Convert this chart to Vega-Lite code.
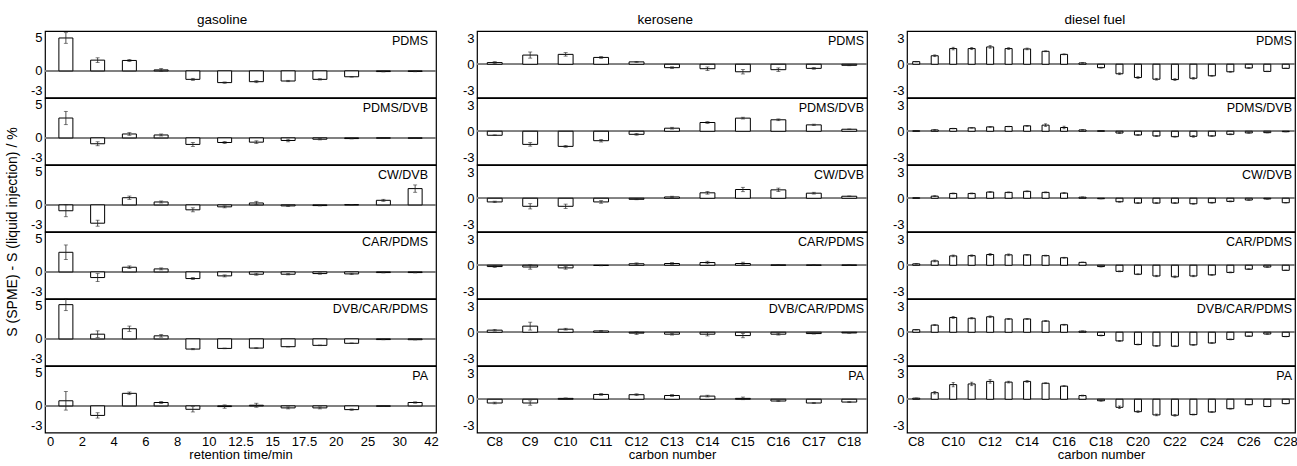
{
"$schema":"https://vega.github.io/schema/vega-lite/v6.json",
"padding":{"left":5,"top":12,"right":0,"bottom":0},
"config":{"font":"Liberation Sans","view":{"stroke":"black","strokeWidth":1.2},
"axis":{"grid":false,"ticks":false,"domain":false,"minExtent":0,"labelFontSize":13,"labelColor":"black","labelPadding":3,"labelOverlap":false,"labelBound":false,"labelFlush":false,"titleFontSize":13,"titleFontWeight":"normal","titleColor":"black","titlePadding":1},
"axisX":{"labelPadding":2,"titlePadding":0},
"header":{"labels":false,"labelPadding":0},
"title":{"fontSize":13.5,"fontWeight":"normal","offset":4,"anchor":"middle"}},
"spacing":23,
"datasets":{
"gas":[
{"fiber":"PDMS","seg":1,"value":4.95,"error":0.8},{"fiber":"PDMS","seg":2,"value":1.62,"error":0.35},{"fiber":"PDMS","seg":3,"value":1.57,"error":0.15},{"fiber":"PDMS","seg":4,"value":0.15,"error":0.2},{"fiber":"PDMS","seg":5,"value":-1.27,"error":0.15},{"fiber":"PDMS","seg":6,"value":-1.76,"error":0.1},{"fiber":"PDMS","seg":7,"value":-1.62,"error":0.15},{"fiber":"PDMS","seg":8,"value":-1.52,"error":0.1},{"fiber":"PDMS","seg":9,"value":-1.27,"error":0.1},{"fiber":"PDMS","seg":10,"value":-0.88,"error":0.05},{"fiber":"PDMS","seg":11,"value":-0.1,"error":0.05},{"fiber":"PDMS","seg":12,"value":-0.08,"error":0.05},
{"fiber":"PDMS/DVB","seg":1,"value":2.99,"error":1.0},{"fiber":"PDMS/DVB","seg":2,"value":-0.88,"error":0.3},{"fiber":"PDMS/DVB","seg":3,"value":0.59,"error":0.2},{"fiber":"PDMS/DVB","seg":4,"value":0.44,"error":0.15},{"fiber":"PDMS/DVB","seg":5,"value":-0.98,"error":0.3},{"fiber":"PDMS/DVB","seg":6,"value":-0.69,"error":0.15},{"fiber":"PDMS/DVB","seg":7,"value":-0.64,"error":0.2},{"fiber":"PDMS/DVB","seg":8,"value":-0.39,"error":0.2},{"fiber":"PDMS/DVB","seg":9,"value":-0.2,"error":0.1},{"fiber":"PDMS/DVB","seg":10,"value":-0.1,"error":0.05},{"fiber":"PDMS/DVB","seg":11,"value":-0.03,"error":0.03},{"fiber":"PDMS/DVB","seg":12,"value":-0.05,"error":0.03},
{"fiber":"CW/DVB","seg":1,"value":-0.88,"error":0.9},{"fiber":"CW/DVB","seg":2,"value":-2.75,"error":0.45},{"fiber":"CW/DVB","seg":3,"value":1.08,"error":0.25},{"fiber":"CW/DVB","seg":4,"value":0.44,"error":0.15},{"fiber":"CW/DVB","seg":5,"value":-0.74,"error":0.3},{"fiber":"CW/DVB","seg":6,"value":-0.29,"error":0.15},{"fiber":"CW/DVB","seg":7,"value":0.29,"error":0.25},{"fiber":"CW/DVB","seg":8,"value":-0.15,"error":0.1},{"fiber":"CW/DVB","seg":9,"value":-0.1,"error":0.05},{"fiber":"CW/DVB","seg":10,"value":0.03,"error":0.03},{"fiber":"CW/DVB","seg":11,"value":0.69,"error":0.15},{"fiber":"CW/DVB","seg":12,"value":2.45,"error":0.55},
{"fiber":"CAR/PDMS","seg":1,"value":2.95,"error":1.1},{"fiber":"CAR/PDMS","seg":2,"value":-0.85,"error":0.6},{"fiber":"CAR/PDMS","seg":3,"value":0.7,"error":0.2},{"fiber":"CAR/PDMS","seg":4,"value":0.45,"error":0.15},{"fiber":"CAR/PDMS","seg":5,"value":-1.0,"error":0.15},{"fiber":"CAR/PDMS","seg":6,"value":-0.6,"error":0.15},{"fiber":"CAR/PDMS","seg":7,"value":-0.35,"error":0.15},{"fiber":"CAR/PDMS","seg":8,"value":-0.35,"error":0.1},{"fiber":"CAR/PDMS","seg":9,"value":-0.25,"error":0.1},{"fiber":"CAR/PDMS","seg":10,"value":-0.3,"error":0.1},{"fiber":"CAR/PDMS","seg":11,"value":-0.1,"error":0.05},{"fiber":"CAR/PDMS","seg":12,"value":-0.1,"error":0.05},
{"fiber":"DVB/CAR/PDMS","seg":1,"value":5.15,"error":0.9},{"fiber":"DVB/CAR/PDMS","seg":2,"value":0.71,"error":0.5},{"fiber":"DVB/CAR/PDMS","seg":3,"value":1.53,"error":0.4},{"fiber":"DVB/CAR/PDMS","seg":4,"value":0.46,"error":0.2},{"fiber":"DVB/CAR/PDMS","seg":5,"value":-1.53,"error":0.1},{"fiber":"DVB/CAR/PDMS","seg":6,"value":-1.43,"error":0.05},{"fiber":"DVB/CAR/PDMS","seg":7,"value":-1.38,"error":0.05},{"fiber":"DVB/CAR/PDMS","seg":8,"value":-1.17,"error":0.05},{"fiber":"DVB/CAR/PDMS","seg":9,"value":-0.97,"error":0.05},{"fiber":"DVB/CAR/PDMS","seg":10,"value":-0.66,"error":0.05},{"fiber":"DVB/CAR/PDMS","seg":11,"value":-0.1,"error":0.03},{"fiber":"DVB/CAR/PDMS","seg":12,"value":-0.12,"error":0.03},
{"fiber":"PA","seg":1,"value":0.77,"error":1.4},{"fiber":"PA","seg":2,"value":-1.43,"error":0.4},{"fiber":"PA","seg":3,"value":1.89,"error":0.2},{"fiber":"PA","seg":4,"value":0.51,"error":0.15},{"fiber":"PA","seg":5,"value":-0.51,"error":0.4},{"fiber":"PA","seg":6,"value":-0.1,"error":0.25},{"fiber":"PA","seg":7,"value":0.1,"error":0.3},{"fiber":"PA","seg":8,"value":-0.3,"error":0.15},{"fiber":"PA","seg":9,"value":-0.3,"error":0.15},{"fiber":"PA","seg":10,"value":-0.56,"error":0.1},{"fiber":"PA","seg":11,"value":-0.05,"error":0.03},{"fiber":"PA","seg":12,"value":0.51,"error":0.1}
],
"ker":[
{"fiber":"PDMS","carbon":"C8","value":0.19,"error":0.1},{"fiber":"PDMS","carbon":"C9","value":1.05,"error":0.35},{"fiber":"PDMS","carbon":"C10","value":1.13,"error":0.2},{"fiber":"PDMS","carbon":"C11","value":0.78,"error":0.1},{"fiber":"PDMS","carbon":"C12","value":0.27,"error":0.05},{"fiber":"PDMS","carbon":"C13","value":-0.39,"error":0.1},{"fiber":"PDMS","carbon":"C14","value":-0.51,"error":0.2},{"fiber":"PDMS","carbon":"C15","value":-0.86,"error":0.25},{"fiber":"PDMS","carbon":"C16","value":-0.62,"error":0.2},{"fiber":"PDMS","carbon":"C17","value":-0.47,"error":0.1},{"fiber":"PDMS","carbon":"C18","value":-0.12,"error":0.05},
{"fiber":"PDMS/DVB","carbon":"C8","value":-0.46,"error":0.05},{"fiber":"PDMS/DVB","carbon":"C9","value":-1.5,"error":0.2},{"fiber":"PDMS/DVB","carbon":"C10","value":-1.73,"error":0.1},{"fiber":"PDMS/DVB","carbon":"C11","value":-1.08,"error":0.15},{"fiber":"PDMS/DVB","carbon":"C12","value":-0.35,"error":0.1},{"fiber":"PDMS/DVB","carbon":"C13","value":0.35,"error":0.1},{"fiber":"PDMS/DVB","carbon":"C14","value":1.0,"error":0.1},{"fiber":"PDMS/DVB","carbon":"C15","value":1.5,"error":0.1},{"fiber":"PDMS/DVB","carbon":"C16","value":1.31,"error":0.1},{"fiber":"PDMS/DVB","carbon":"C17","value":0.73,"error":0.08},{"fiber":"PDMS/DVB","carbon":"C18","value":0.23,"error":0.03},
{"fiber":"CW/DVB","carbon":"C8","value":-0.42,"error":0.08},{"fiber":"CW/DVB","carbon":"C9","value":-0.92,"error":0.3},{"fiber":"CW/DVB","carbon":"C10","value":-0.92,"error":0.25},{"fiber":"CW/DVB","carbon":"C11","value":-0.42,"error":0.15},{"fiber":"CW/DVB","carbon":"C12","value":-0.12,"error":0.05},{"fiber":"CW/DVB","carbon":"C13","value":0.15,"error":0.08},{"fiber":"CW/DVB","carbon":"C14","value":0.62,"error":0.15},{"fiber":"CW/DVB","carbon":"C15","value":1.0,"error":0.25},{"fiber":"CW/DVB","carbon":"C16","value":0.96,"error":0.2},{"fiber":"CW/DVB","carbon":"C17","value":0.58,"error":0.1},{"fiber":"CW/DVB","carbon":"C18","value":0.23,"error":0.03},
{"fiber":"CAR/PDMS","carbon":"C8","value":-0.15,"error":0.1},{"fiber":"CAR/PDMS","carbon":"C9","value":-0.2,"error":0.25},{"fiber":"CAR/PDMS","carbon":"C10","value":-0.3,"error":0.15},{"fiber":"CAR/PDMS","carbon":"C11","value":-0.03,"error":0.03},{"fiber":"CAR/PDMS","carbon":"C12","value":0.17,"error":0.1},{"fiber":"CAR/PDMS","carbon":"C13","value":0.2,"error":0.1},{"fiber":"CAR/PDMS","carbon":"C14","value":0.31,"error":0.15},{"fiber":"CAR/PDMS","carbon":"C15","value":0.2,"error":0.15},{"fiber":"CAR/PDMS","carbon":"C16","value":0.03,"error":0.05},{"fiber":"CAR/PDMS","carbon":"C17","value":0.02,"error":0.03},{"fiber":"CAR/PDMS","carbon":"C18","value":0.02,"error":0.03},
{"fiber":"DVB/CAR/PDMS","carbon":"C8","value":0.24,"error":0.1},{"fiber":"DVB/CAR/PDMS","carbon":"C9","value":0.7,"error":0.45},{"fiber":"DVB/CAR/PDMS","carbon":"C10","value":0.35,"error":0.1},{"fiber":"DVB/CAR/PDMS","carbon":"C11","value":0.15,"error":0.05},{"fiber":"DVB/CAR/PDMS","carbon":"C12","value":-0.1,"error":0.15},{"fiber":"DVB/CAR/PDMS","carbon":"C13","value":-0.22,"error":0.1},{"fiber":"DVB/CAR/PDMS","carbon":"C14","value":-0.22,"error":0.2},{"fiber":"DVB/CAR/PDMS","carbon":"C15","value":-0.38,"error":0.25},{"fiber":"DVB/CAR/PDMS","carbon":"C16","value":-0.22,"error":0.1},{"fiber":"DVB/CAR/PDMS","carbon":"C17","value":-0.15,"error":0.05},{"fiber":"DVB/CAR/PDMS","carbon":"C18","value":-0.08,"error":0.03},
{"fiber":"PA","carbon":"C8","value":-0.43,"error":0.1},{"fiber":"PA","carbon":"C9","value":-0.43,"error":0.25},{"fiber":"PA","carbon":"C10","value":0.1,"error":0.05},{"fiber":"PA","carbon":"C11","value":0.55,"error":0.1},{"fiber":"PA","carbon":"C12","value":0.52,"error":0.1},{"fiber":"PA","carbon":"C13","value":0.43,"error":0.1},{"fiber":"PA","carbon":"C14","value":0.36,"error":0.1},{"fiber":"PA","carbon":"C15","value":0.1,"error":0.15},{"fiber":"PA","carbon":"C16","value":-0.2,"error":0.05},{"fiber":"PA","carbon":"C17","value":-0.43,"error":0.05},{"fiber":"PA","carbon":"C18","value":-0.32,"error":0.05}
],
"die":[
{"fiber":"PDMS","carbon":"C8","value":0.3,"error":0.03},{"fiber":"PDMS","carbon":"C9","value":0.97,"error":0.1},{"fiber":"PDMS","carbon":"C10","value":1.79,"error":0.15},{"fiber":"PDMS","carbon":"C11","value":1.79,"error":0.12},{"fiber":"PDMS","carbon":"C12","value":1.98,"error":0.15},{"fiber":"PDMS","carbon":"C13","value":1.79,"error":0.1},{"fiber":"PDMS","carbon":"C14","value":1.75,"error":0.1},{"fiber":"PDMS","carbon":"C15","value":1.48,"error":0.05},{"fiber":"PDMS","carbon":"C16","value":1.13,"error":0.05},{"fiber":"PDMS","carbon":"C17","value":0.15,"error":0.03},{"fiber":"PDMS","carbon":"C18","value":-0.39,"error":0.05},{"fiber":"PDMS","carbon":"C19","value":-1.09,"error":0.1},{"fiber":"PDMS","carbon":"C20","value":-1.52,"error":0.1},{"fiber":"PDMS","carbon":"C21","value":-1.71,"error":0.1},{"fiber":"PDMS","carbon":"C22","value":-1.75,"error":0.1},{"fiber":"PDMS","carbon":"C23","value":-1.6,"error":0.1},{"fiber":"PDMS","carbon":"C24","value":-1.32,"error":0.05},{"fiber":"PDMS","carbon":"C25","value":-0.86,"error":0.05},{"fiber":"PDMS","carbon":"C26","value":-0.43,"error":0.05},{"fiber":"PDMS","carbon":"C27","value":-0.82,"error":0.03},{"fiber":"PDMS","carbon":"C28","value":-0.47,"error":0.03},
{"fiber":"PDMS/DVB","carbon":"C8","value":0.05,"error":0.02},{"fiber":"PDMS/DVB","carbon":"C9","value":0.15,"error":0.05},{"fiber":"PDMS/DVB","carbon":"C10","value":0.31,"error":0.03},{"fiber":"PDMS/DVB","carbon":"C11","value":0.39,"error":0.03},{"fiber":"PDMS/DVB","carbon":"C12","value":0.5,"error":0.05},{"fiber":"PDMS/DVB","carbon":"C13","value":0.54,"error":0.03},{"fiber":"PDMS/DVB","carbon":"C14","value":0.62,"error":0.05},{"fiber":"PDMS/DVB","carbon":"C15","value":0.7,"error":0.15},{"fiber":"PDMS/DVB","carbon":"C16","value":0.43,"error":0.15},{"fiber":"PDMS/DVB","carbon":"C17","value":0.15,"error":0.03},{"fiber":"PDMS/DVB","carbon":"C18","value":0.05,"error":0.02},{"fiber":"PDMS/DVB","carbon":"C19","value":-0.2,"error":0.05},{"fiber":"PDMS/DVB","carbon":"C20","value":-0.43,"error":0.05},{"fiber":"PDMS/DVB","carbon":"C21","value":-0.54,"error":0.05},{"fiber":"PDMS/DVB","carbon":"C22","value":-0.62,"error":0.05},{"fiber":"PDMS/DVB","carbon":"C23","value":-0.58,"error":0.1},{"fiber":"PDMS/DVB","carbon":"C24","value":-0.54,"error":0.05},{"fiber":"PDMS/DVB","carbon":"C25","value":-0.35,"error":0.05},{"fiber":"PDMS/DVB","carbon":"C26","value":-0.19,"error":0.03},{"fiber":"PDMS/DVB","carbon":"C27","value":-0.16,"error":0.03},{"fiber":"PDMS/DVB","carbon":"C28","value":-0.05,"error":0.02},
{"fiber":"CW/DVB","carbon":"C8","value":0.05,"error":0.03},{"fiber":"CW/DVB","carbon":"C9","value":0.24,"error":0.05},{"fiber":"CW/DVB","carbon":"C10","value":0.55,"error":0.05},{"fiber":"CW/DVB","carbon":"C11","value":0.55,"error":0.05},{"fiber":"CW/DVB","carbon":"C12","value":0.71,"error":0.05},{"fiber":"CW/DVB","carbon":"C13","value":0.67,"error":0.05},{"fiber":"CW/DVB","carbon":"C14","value":0.79,"error":0.05},{"fiber":"CW/DVB","carbon":"C15","value":0.67,"error":0.05},{"fiber":"CW/DVB","carbon":"C16","value":0.59,"error":0.05},{"fiber":"CW/DVB","carbon":"C17","value":0.12,"error":0.03},{"fiber":"CW/DVB","carbon":"C18","value":-0.05,"error":0.02},{"fiber":"CW/DVB","carbon":"C19","value":-0.4,"error":0.05},{"fiber":"CW/DVB","carbon":"C20","value":-0.55,"error":0.05},{"fiber":"CW/DVB","carbon":"C21","value":-0.55,"error":0.05},{"fiber":"CW/DVB","carbon":"C22","value":-0.55,"error":0.05},{"fiber":"CW/DVB","carbon":"C23","value":-0.63,"error":0.05},{"fiber":"CW/DVB","carbon":"C24","value":-0.51,"error":0.05},{"fiber":"CW/DVB","carbon":"C25","value":-0.36,"error":0.05},{"fiber":"CW/DVB","carbon":"C26","value":-0.2,"error":0.03},{"fiber":"CW/DVB","carbon":"C27","value":-0.08,"error":0.03},{"fiber":"CW/DVB","carbon":"C28","value":-0.51,"error":0.03},
{"fiber":"CAR/PDMS","carbon":"C8","value":0.16,"error":0.03},{"fiber":"CAR/PDMS","carbon":"C9","value":0.49,"error":0.1},{"fiber":"CAR/PDMS","carbon":"C10","value":1.07,"error":0.1},{"fiber":"CAR/PDMS","carbon":"C11","value":1.1,"error":0.08},{"fiber":"CAR/PDMS","carbon":"C12","value":1.23,"error":0.1},{"fiber":"CAR/PDMS","carbon":"C13","value":1.19,"error":0.1},{"fiber":"CAR/PDMS","carbon":"C14","value":1.19,"error":0.05},{"fiber":"CAR/PDMS","carbon":"C15","value":1.1,"error":0.05},{"fiber":"CAR/PDMS","carbon":"C16","value":0.86,"error":0.05},{"fiber":"CAR/PDMS","carbon":"C17","value":0.33,"error":0.03},{"fiber":"CAR/PDMS","carbon":"C18","value":-0.15,"error":0.05},{"fiber":"CAR/PDMS","carbon":"C19","value":-0.7,"error":0.05},{"fiber":"CAR/PDMS","carbon":"C20","value":-1.03,"error":0.05},{"fiber":"CAR/PDMS","carbon":"C21","value":-1.23,"error":0.08},{"fiber":"CAR/PDMS","carbon":"C22","value":-1.32,"error":0.1},{"fiber":"CAR/PDMS","carbon":"C23","value":-1.23,"error":0.08},{"fiber":"CAR/PDMS","carbon":"C24","value":-1.1,"error":0.05},{"fiber":"CAR/PDMS","carbon":"C25","value":-0.82,"error":0.05},{"fiber":"CAR/PDMS","carbon":"C26","value":-0.45,"error":0.05},{"fiber":"CAR/PDMS","carbon":"C27","value":-0.2,"error":0.03},{"fiber":"CAR/PDMS","carbon":"C28","value":-0.58,"error":0.03},
{"fiber":"DVB/CAR/PDMS","carbon":"C8","value":0.29,"error":0.03},{"fiber":"DVB/CAR/PDMS","carbon":"C9","value":0.82,"error":0.05},{"fiber":"DVB/CAR/PDMS","carbon":"C10","value":1.69,"error":0.1},{"fiber":"DVB/CAR/PDMS","carbon":"C11","value":1.6,"error":0.08},{"fiber":"DVB/CAR/PDMS","carbon":"C12","value":1.77,"error":0.1},{"fiber":"DVB/CAR/PDMS","carbon":"C13","value":1.52,"error":0.05},{"fiber":"DVB/CAR/PDMS","carbon":"C14","value":1.52,"error":0.05},{"fiber":"DVB/CAR/PDMS","carbon":"C15","value":1.28,"error":0.05},{"fiber":"DVB/CAR/PDMS","carbon":"C16","value":0.86,"error":0.05},{"fiber":"DVB/CAR/PDMS","carbon":"C17","value":0.12,"error":0.03},{"fiber":"DVB/CAR/PDMS","carbon":"C18","value":-0.37,"error":0.05},{"fiber":"DVB/CAR/PDMS","carbon":"C19","value":-0.99,"error":0.05},{"fiber":"DVB/CAR/PDMS","carbon":"C20","value":-1.4,"error":0.05},{"fiber":"DVB/CAR/PDMS","carbon":"C21","value":-1.56,"error":0.05},{"fiber":"DVB/CAR/PDMS","carbon":"C22","value":-1.6,"error":0.05},{"fiber":"DVB/CAR/PDMS","carbon":"C23","value":-1.44,"error":0.05},{"fiber":"DVB/CAR/PDMS","carbon":"C24","value":-1.23,"error":0.05},{"fiber":"DVB/CAR/PDMS","carbon":"C25","value":-0.82,"error":0.05},{"fiber":"DVB/CAR/PDMS","carbon":"C26","value":-0.45,"error":0.03},{"fiber":"DVB/CAR/PDMS","carbon":"C27","value":-0.2,"error":0.03},{"fiber":"DVB/CAR/PDMS","carbon":"C28","value":-0.49,"error":0.03},
{"fiber":"PA","carbon":"C8","value":0.12,"error":0.02},{"fiber":"PA","carbon":"C9","value":0.75,"error":0.15},{"fiber":"PA","carbon":"C10","value":1.67,"error":0.25},{"fiber":"PA","carbon":"C11","value":1.75,"error":0.2},{"fiber":"PA","carbon":"C12","value":2.04,"error":0.2},{"fiber":"PA","carbon":"C13","value":1.96,"error":0.1},{"fiber":"PA","carbon":"C14","value":2.04,"error":0.1},{"fiber":"PA","carbon":"C15","value":1.83,"error":0.05},{"fiber":"PA","carbon":"C16","value":1.5,"error":0.05},{"fiber":"PA","carbon":"C17","value":0.42,"error":0.05},{"fiber":"PA","carbon":"C18","value":-0.17,"error":0.05},{"fiber":"PA","carbon":"C19","value":-0.92,"error":0.15},{"fiber":"PA","carbon":"C20","value":-1.42,"error":0.1},{"fiber":"PA","carbon":"C21","value":-1.79,"error":0.1},{"fiber":"PA","carbon":"C22","value":-1.83,"error":0.1},{"fiber":"PA","carbon":"C23","value":-1.75,"error":0.05},{"fiber":"PA","carbon":"C24","value":-1.46,"error":0.05},{"fiber":"PA","carbon":"C25","value":-1.08,"error":0.05},{"fiber":"PA","carbon":"C26","value":-0.62,"error":0.03},{"fiber":"PA","carbon":"C27","value":-0.83,"error":0.03},{"fiber":"PA","carbon":"C28","value":-0.5,"error":0.03}
]
},
"hconcat":[
{
"data":{"name":"gas"},
"title":{"text":"gasoline"},
"bounds":"flush",
"facet":{"row":{"field":"fiber","type":"nominal","sort":["PDMS","PDMS/DVB","CW/DVB","CAR/PDMS","DVB/CAR/PDMS","PA"],"header":{"labels":false,"labelPadding":0,"title":"S (SPME) - S (liquid injection) / %","titleFontSize":14,"titleFontWeight":"normal","titlePadding":0}}},
"spacing":{"row":0},
"spec":{
"width":391,"height":66.5,
"layer":[
{"mark":{"type":"rule","color":"#808080","strokeWidth":1},"encoding":{"y":{"datum":0,"type":"quantitative"}}},
{"mark":{"type":"bar","fill":"white","stroke":"black","strokeWidth":1,"width":14},
"encoding":{"x":{"field":"seg","type":"quantitative","scale":{"domain":[0.5,12.5],"nice":false,"zero":false},
"axis":{"values":[0.5,1.5,2.5,3.5,4.5,5.5,6.5,7.5,8.5,9.5,10.5,11.5,12.5],"tickCount":50,"labelExpr":"['0','2','4','6','8','10','12.5','15','17.5','20','25','30','42'][round(datum.value-0.5)]","title":"retention time/min","labelOverlap":false}},
"y":{"field":"value","type":"quantitative","scale":{"domain":[-4,6],"nice":false},"axis":{"values":[-3,0,5],"tickCount":20,"title":null,"labelOverlap":false,"labelExpr":"datum.value < 0 ? '-' + abs(datum.value) : '' + datum.value"}}}},
{"mark":{"type":"errorbar","ticks":{"size":4,"color":"#222"},"color":"#222","thickness":0.8},
"encoding":{"x":{"field":"seg","type":"quantitative"},"y":{"field":"value","type":"quantitative"},"yError":{"field":"error"}}},
{"transform":[{"aggregate":[{"op":"count","as":"n"}],"groupby":["fiber"]}],
"mark":{"type":"text","align":"right","baseline":"top","dx":-3,"dy":4,"fontSize":12.5,"color":"black"},
"encoding":{"x":{"datum":12.5,"type":"quantitative"},"y":{"datum":6,"type":"quantitative"},"text":{"field":"fiber"}}}
]}
},
{
"data":{"name":"ker"},
"title":{"text":"kerosene"},
"bounds":"flush",
"facet":{"row":{"field":"fiber","type":"nominal","sort":["PDMS","PDMS/DVB","CW/DVB","CAR/PDMS","DVB/CAR/PDMS","PA"],"header":{"labels":false,"title":null}}},
"spacing":{"row":0},
"spec":{
"width":390,"height":66.5,
"layer":[
{"mark":{"type":"rule","color":"#808080","strokeWidth":1},"encoding":{"y":{"datum":0,"type":"quantitative"}}},
{"mark":{"type":"bar","fill":"white","stroke":"black","strokeWidth":1,"width":{"band":0.42}},
"encoding":{"x":{"field":"carbon","type":"nominal","sort":null,"scale":{"paddingInner":0,"paddingOuter":0},"axis":{"labelAngle":0,"title":"carbon number"}},
"y":{"field":"value","type":"quantitative","scale":{"domain":[-3.8,3.8],"nice":false},"axis":{"values":[-3,0,3],"tickCount":20,"title":null,"labelOverlap":false,"labelExpr":"datum.value < 0 ? '-' + abs(datum.value) : '' + datum.value"}}}},
{"mark":{"type":"errorbar","ticks":{"size":4,"color":"#222"},"color":"#222","thickness":0.8},
"encoding":{"x":{"field":"carbon","type":"nominal","sort":null},"y":{"field":"value","type":"quantitative"},"yError":{"field":"error"}}},
{"transform":[{"aggregate":[{"op":"count","as":"n"}],"groupby":["fiber"]}],
"mark":{"type":"text","align":"right","baseline":"top","dx":-3,"dy":4,"fontSize":12.5,"color":"black"},
"encoding":{"x":{"datum":"C18","bandPosition":1},"y":{"datum":3.8,"type":"quantitative"},"text":{"field":"fiber"}}}
]}
},
{
"data":{"name":"die"},
"title":{"text":"diesel fuel"},
"bounds":"flush",
"facet":{"row":{"field":"fiber","type":"nominal","sort":["PDMS","PDMS/DVB","CW/DVB","CAR/PDMS","DVB/CAR/PDMS","PA"],"header":{"labels":false,"title":null}}},
"spacing":{"row":0},
"spec":{
"width":388,"height":66.5,
"layer":[
{"mark":{"type":"rule","color":"#808080","strokeWidth":1},"encoding":{"y":{"datum":0,"type":"quantitative"}}},
{"mark":{"type":"bar","fill":"white","stroke":"black","strokeWidth":1,"width":{"band":0.38}},
"encoding":{"x":{"field":"carbon","type":"nominal","sort":null,"scale":{"paddingInner":0,"paddingOuter":0},"axis":{"labelAngle":0,"title":"carbon number","values":["C8","C10","C12","C14","C16","C18","C20","C22","C24","C26","C28"]}},
"y":{"field":"value","type":"quantitative","scale":{"domain":[-3.8,3.8],"nice":false},"axis":{"values":[-3,0,3],"tickCount":20,"title":null,"labelOverlap":false,"labelExpr":"datum.value < 0 ? '-' + abs(datum.value) : '' + datum.value"}}}},
{"mark":{"type":"errorbar","ticks":{"size":3,"color":"#222"},"color":"#222","thickness":0.8},
"encoding":{"x":{"field":"carbon","type":"nominal","sort":null},"y":{"field":"value","type":"quantitative"},"yError":{"field":"error"}}},
{"transform":[{"aggregate":[{"op":"count","as":"n"}],"groupby":["fiber"]}],
"mark":{"type":"text","align":"right","baseline":"top","dx":-3,"dy":4,"fontSize":12.5,"color":"black"},
"encoding":{"x":{"datum":"C28","bandPosition":1},"y":{"datum":3.8,"type":"quantitative"},"text":{"field":"fiber"}}}
]}
}
]
}
